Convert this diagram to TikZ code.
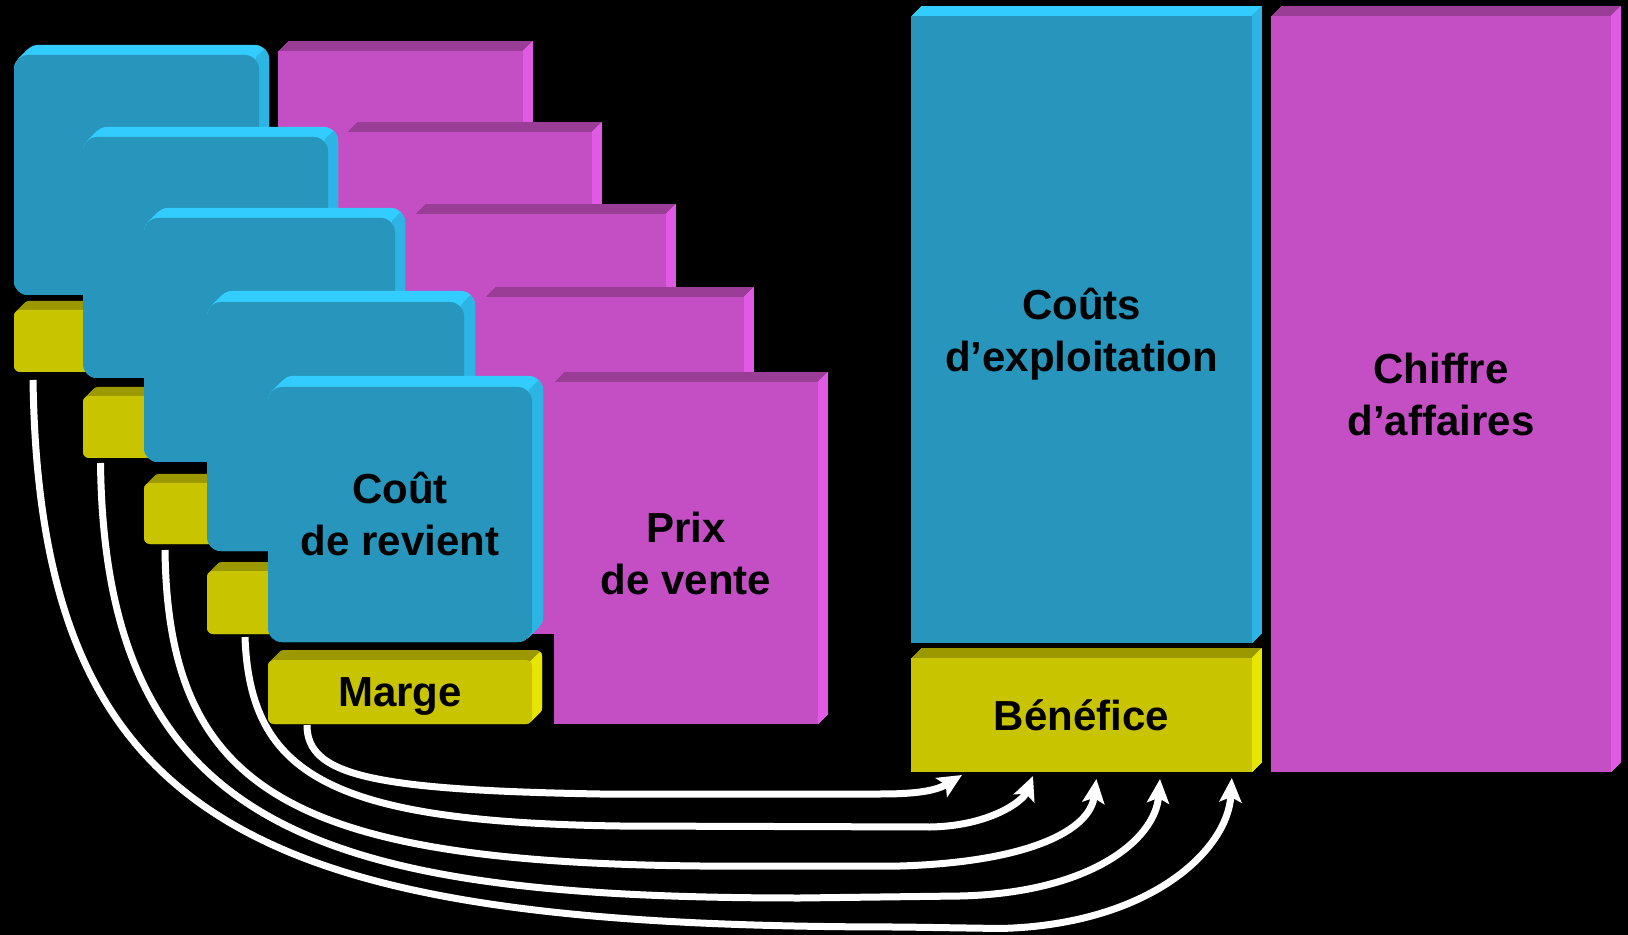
\documentclass[tikz,border=0pt]{standalone}
\usepackage{fontspec}
\setmainfont{Liberation Sans}
\usetikzlibrary{arrows.meta}
\definecolor{cyfront}{HTML}{2896BC}
\definecolor{cytop}{HTML}{33CCFF}
\definecolor{cyside}{HTML}{2CB4E4}
\definecolor{mgfront}{HTML}{C44FC4}
\definecolor{mgtop}{HTML}{9A3D96}
\definecolor{mgside}{HTML}{E05AE3}
\definecolor{yefront}{HTML}{C8C400}
\definecolor{yetop}{HTML}{9C9800}
\definecolor{yeside}{HTML}{E6E600}
\tikzset{
  lbl/.style={font=\fontsize{21}{26}\selectfont\bfseries, text=black, align=center},
  conn/.style={white, line width=3.5pt, -{Stealth[length=12pt,width=11pt,inset=2.5pt]}}
}
\newcommand\nodepth[1]{\raisebox{0pt}[\height][0pt]{#1}}
% #1 name, #2 x0, #3 y0, #4 x1, #5 y1, #6 colour prefix, #7 corner style, #8 text, #9 depth
\newcommand\tdbox[9]{%
  \foreach \k in {0,0.5,...,#9}{\fill[#6top,#7] ({#2+\k},{#3-\k}) rectangle ({#4+\k},{#5-\k});}
  \begin{scope}
    \clip ({#4-3},{#3+3}) -- ({#4+80},{#3-80}) -- ({#4+80},{#5+30}) -- ({#4-3},{#5+30}) -- cycle;
    \foreach \k in {0,0.5,...,#9}{\fill[#6side,#7] ({#2+\k},{#3-\k}) rectangle ({#4+\k},{#5-\k});}
  \end{scope}
  \node[lbl, fill=#6front, #7, inner sep=0pt, outer sep=0pt,
        minimum width={(#4-#2)*0.5pt}, minimum height={(#5-#3)*0.5pt}]
        (#1) at ({(#2+#4)/2},{(#3+#5)/2}) {#8};
}
\begin{document}
\begin{tikzpicture}[x=0.5pt,y=-0.5pt]
\useasboundingbox (0,0) rectangle (1628,935);
\fill[black] (0,0) rectangle (1628,935);
% staircase of products
\tdbox{m1}{278}{51}{523}{372}{mg}{sharp corners}{}{10}
\tdbox{c1}{14}{55}{259}{295}{cy}{rounded corners=7pt}{}{10}
\tdbox{y1}{14}{310}{259}{372}{ye}{rounded corners=3pt}{}{9}
\tdbox{m2}{347}{132}{592}{458}{mg}{sharp corners}{}{10}
\tdbox{c2}{83}{137}{328}{378}{cy}{rounded corners=7pt}{}{10}
\tdbox{y2}{83}{396}{328}{458}{ye}{rounded corners=3pt}{}{9}
\tdbox{m3}{415}{214}{666}{544}{mg}{sharp corners}{}{10}
\tdbox{c3}{144}{218}{395}{462}{cy}{rounded corners=7pt}{}{10}
\tdbox{y3}{144}{483}{395}{544}{ye}{rounded corners=3pt}{}{9}
\tdbox{m4}{485}{297}{744}{634}{mg}{sharp corners}{}{10}
\tdbox{c4}{207}{302}{464}{551}{cy}{rounded corners=7pt}{}{11}
\tdbox{y4}{207}{571}{464}{634}{ye}{rounded corners=3pt}{}{9}
\tdbox{m5}{554}{382}{818}{724}{mg}{sharp corners}{Prix\\de vente}{10}
\tdbox{c5}{268}{387}{532}{642}{cy}{rounded corners=7pt}{Coût\\de revient}{11}
\tdbox{y5}{268}{660}{532}{724}{ye}{rounded corners=3pt}{\nodepth{Marge}}{10}
% totals
\tdbox{couts}{911}{16}{1252}{643}{cy}{sharp corners}{Coûts\\\nodepth{d’exploitation}}{10}
\tdbox{ben}{911}{658}{1252}{772}{ye}{sharp corners}{Bénéfice}{10}
\tdbox{ca}{1271}{16}{1611}{772}{mg}{sharp corners}{Chiffre\\d’affaires}{10}
% connector ends
\coordinate (s1) at ([xshift=9.5pt,yshift=-4pt]y1.south west);
\coordinate (s2) at ([xshift=8.75pt,yshift=-2.5pt]y2.south west);
\coordinate (s3) at ([xshift=10.5pt,yshift=-3pt]y3.south west);
\coordinate (s4) at ([xshift=19pt,yshift=-1.5pt]y4.south west);
\coordinate (s5) at ([xshift=19.5pt,yshift=-0.5pt]y5.south west);
\coordinate (e1) at ([xshift=25.5pt,yshift=-1.5pt]ben.south west);
\coordinate (e2) at ([xshift=61pt,yshift=-2pt]ben.south west);
\coordinate (e3) at ([xshift=92.7pt,yshift=-3.5pt]ben.south west);
\coordinate (e4) at ([xshift=124.5pt,yshift=-3.5pt]ben.south west);
\coordinate (e5) at ([xshift=160.4pt,yshift=-3pt]ben.south west);
% connectors
\draw[conn] (s5) .. controls +(0,50) and +(-230,-4) .. (600,794) -- (880,794) .. controls +(30,0) and +(-28,17) .. (e1);
\draw[conn] (s4) .. controls +(5,138) and +(-290,-4) .. (620,826) -- (930,827) .. controls +(60,-1) and +(-10,25) .. (e2);
\draw[conn] (s3) .. controls +(3,240) and +(-410,-4) .. (700,866) -- (900,866) .. controls +(130,-4) and +(-6.5,51) .. (e3);
\draw[conn] (s2) .. controls +(4.5,367) and +(-480,0) .. (800,898) -- (960,896) .. controls +(130,-3) and +(-5,61) .. (e4);
\draw[conn] (s1) .. controls +(7,450) and +(-640,0) .. (900,927) -- (1000,928.5) .. controls +(150,-3.5) and +(-4,72) .. (e5);
\end{tikzpicture}
\end{document}
